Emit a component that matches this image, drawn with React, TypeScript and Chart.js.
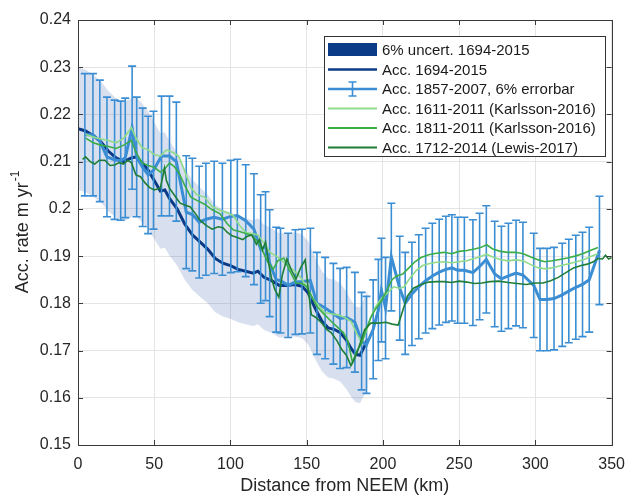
import React, { useEffect, useRef } from "react";
import { Chart, registerables } from "chart.js";

Chart.register(...registerables);

// ---------- data ----------
const xTicks = [0, 50, 100, 150, 200, 250, 300, 350];
const yTicks = [0.15, 0.16, 0.17, 0.18, 0.19, 0.2, 0.21, 0.22, 0.23, 0.24];

const uncertFrac = 0.06; // "6% uncert." / "6% errorbar"

// Acc. 1694-2015
const navyKm = [0, 5, 10, 15, 20, 25, 30, 35, 38, 42, 46, 50, 54, 57, 60, 65, 70, 75, 80, 85, 90, 95, 100, 105, 110, 115, 118, 122, 127, 132, 137, 142, 147, 151, 154, 157, 160, 164, 168, 172, 176, 179, 182, 185, 188, 190];
const navyAcc = [0.2170, 0.2165, 0.2155, 0.2142, 0.2122, 0.2108, 0.2100, 0.2108, 0.2110, 0.2098, 0.2082, 0.2060, 0.2038, 0.2040, 0.2022, 0.2000, 0.1968, 0.1945, 0.1930, 0.1915, 0.1895, 0.1885, 0.1880, 0.1872, 0.1868, 0.1864, 0.1868, 0.1855, 0.1848, 0.1838, 0.1838, 0.1840, 0.1836, 0.1822, 0.1800, 0.1780, 0.1762, 0.1748, 0.1745, 0.1738, 0.1722, 0.1705, 0.1692, 0.1690, 0.1710, 0.1725];

// Acc. 1857-2007 with 6% errorbar
const blueKm = [4.5, 9.8, 14.3, 19, 24, 28, 31, 35.5, 38.5, 42.4, 46, 49.5, 54.8, 60, 64.5, 71, 75, 79.5, 83.9, 89.3, 94.7, 100.2, 104.5, 110, 115.4, 119.8, 123, 125.7, 130, 132.8, 137.8, 142.6, 146.9, 152.4, 156.7, 162.1, 167.5, 171.9, 176.2, 181.6, 186, 189.2, 193.6, 197, 199, 201.7, 205.5, 211, 214.6, 219, 223.5, 228, 232.4, 236.9, 241.3, 245.2, 249, 253.4, 259, 263.4, 267.8, 273.3, 277.7, 282.3, 287.3, 291.8, 298.9, 303, 307.6, 312.2, 317.6, 321.9, 326.5, 330.9, 335.3, 342];
const blueAcc = [0.2157, 0.2157, 0.2144, 0.2110, 0.2104, 0.2102, 0.2108, 0.2172, 0.2110, 0.2088, 0.2072, 0.2082, 0.2112, 0.2112, 0.2100, 0.1993, 0.1988, 0.1972, 0.1978, 0.1982, 0.1978, 0.1984, 0.1986, 0.1975, 0.1957, 0.1915, 0.1921, 0.1885, 0.1850, 0.1848, 0.1838, 0.1845, 0.1846, 0.1848, 0.1800, 0.1790, 0.1778, 0.1768, 0.1770, 0.1760, 0.1720, 0.1712, 0.1745, 0.1786, 0.1828, 0.1790, 0.1898, 0.1832, 0.1800, 0.1820, 0.1835, 0.1848, 0.1858, 0.1866, 0.1872, 0.1875, 0.1870, 0.1870, 0.1865, 0.1878, 0.1893, 0.1862, 0.1852, 0.1858, 0.1864, 0.1860, 0.1838, 0.1808, 0.1808, 0.1810, 0.1818, 0.1826, 0.1834, 0.1840, 0.1850, 0.1912];

// Acc. 1611-2011 (Karlsson-2016)
const k1611Km = [5, 10, 15, 20, 25, 30, 35, 38, 42, 46, 50, 54, 58, 62, 66, 70, 74, 78, 83, 88, 93, 98, 102, 106, 110, 114, 118, 122, 126, 130, 134, 138, 142, 146, 150, 154, 158, 162, 166, 171, 175, 179, 183, 186, 189, 192, 195, 199, 203, 207, 211, 214, 218, 222, 226, 230, 235, 240, 245, 250, 255, 260, 265, 268, 272, 277, 282, 287, 292, 297, 302, 307, 312, 317, 322, 327, 332, 337, 341];
const k1611Acc = [0.2158, 0.2152, 0.2148, 0.2145, 0.2140, 0.2150, 0.2172, 0.2150, 0.2130, 0.2125, 0.2115, 0.2112, 0.2125, 0.2120, 0.2112, 0.2080, 0.2045, 0.2030, 0.2025, 0.2005, 0.1997, 0.1992, 0.1985, 0.1965, 0.1950, 0.1948, 0.1945, 0.1928, 0.1908, 0.1900, 0.1890, 0.1878, 0.1868, 0.1855, 0.1835, 0.1810, 0.1795, 0.1780, 0.1778, 0.1775, 0.1770, 0.1762, 0.1735, 0.1718, 0.1740, 0.1770, 0.1792, 0.1810, 0.1822, 0.1835, 0.1832, 0.1835, 0.1855, 0.1870, 0.1880, 0.1884, 0.1887, 0.1888, 0.1886, 0.1888, 0.1890, 0.1895, 0.1900, 0.1904, 0.1898, 0.1893, 0.1890, 0.1892, 0.1890, 0.1882, 0.1875, 0.1873, 0.1876, 0.1880, 0.1884, 0.1888, 0.1893, 0.1900, 0.1905];

// Acc. 1811-2011 (Karlsson-2016)
const k1811Km = [5, 10, 15, 20, 25, 30, 35, 38, 42, 46, 50, 54, 57, 60, 63, 66, 70, 74, 78, 83, 88, 93, 98, 102, 106, 110, 114, 118, 121, 124, 128, 131, 135, 139, 143, 147, 150, 154, 157, 162, 166, 170, 174, 177, 180, 183, 186, 189, 192, 195, 199, 203, 206, 209, 213, 217, 221, 225, 230, 235, 240, 245, 250, 255, 260, 264, 268, 272, 277, 282, 287, 292, 297, 302, 306, 311, 316, 321, 326, 331, 336, 341];
const k1811Acc = [0.2150, 0.2140, 0.2135, 0.2132, 0.2128, 0.2135, 0.2145, 0.2120, 0.2098, 0.2092, 0.2088, 0.2078, 0.2085, 0.2097, 0.2090, 0.2078, 0.2050, 0.2025, 0.2018, 0.2010, 0.1998, 0.1990, 0.1968, 0.1955, 0.1952, 0.1948, 0.1944, 0.1930, 0.1912, 0.1890, 0.1872, 0.1890, 0.1896, 0.1868, 0.1843, 0.1842, 0.1835, 0.1810, 0.1792, 0.1775, 0.1762, 0.1750, 0.1738, 0.1720, 0.1675, 0.1700, 0.1715, 0.1745, 0.1770, 0.1787, 0.1805, 0.1830, 0.1850, 0.1858, 0.1862, 0.1875, 0.1888, 0.1897, 0.1903, 0.1906, 0.1908, 0.1905, 0.1910, 0.1912, 0.1915, 0.1918, 0.1924, 0.1915, 0.1910, 0.1908, 0.1908, 0.1905, 0.1898, 0.1892, 0.1888, 0.1890, 0.1893, 0.1896, 0.1900, 0.1905, 0.1912, 0.1918];

// Acc. 1712-2014 (Lewis-2017)
const lewisKm = [3, 5, 8, 11, 14, 17.6, 21, 24, 27, 30, 32.6, 35, 38, 41, 44, 47, 50, 54, 56.7, 58, 60, 63, 67, 70, 73.7, 77, 80, 84, 88, 92, 95, 98, 101, 104, 108, 111, 114, 117, 119, 121, 123, 125, 127, 129, 131.7, 134, 137, 140, 143, 146, 149, 151, 153, 156, 160, 163, 166, 170, 173, 176, 179, 181, 183, 186, 188, 192, 197, 202, 206, 210, 213, 216, 220, 225, 230, 235, 240, 245, 250, 255, 260, 265, 270, 276, 282, 288, 294, 300, 305, 310, 315, 320, 325, 330, 334, 338, 341, 344, 346, 348, 350];
const lewisAcc = [0.2105, 0.2110, 0.2100, 0.2095, 0.2103, 0.2103, 0.2092, 0.2093, 0.2098, 0.2095, 0.2103, 0.2098, 0.2072, 0.2068, 0.2055, 0.2045, 0.2040, 0.2044, 0.2086, 0.2060, 0.2044, 0.2030, 0.2012, 0.2008, 0.2004, 0.1990, 0.1976, 0.1965, 0.1957, 0.1962, 0.1960, 0.1950, 0.1943, 0.1940, 0.1935, 0.1942, 0.1945, 0.1925, 0.1935, 0.1913, 0.1930, 0.1885, 0.1852, 0.1830, 0.1813, 0.1860, 0.1894, 0.1870, 0.1852, 0.1875, 0.1892, 0.1830, 0.1776, 0.1770, 0.1758, 0.1745, 0.1738, 0.1720, 0.1702, 0.1690, 0.1668, 0.1680, 0.1695, 0.1725, 0.1744, 0.1758, 0.1758, 0.1760, 0.1756, 0.1754, 0.1785, 0.1815, 0.1832, 0.1840, 0.1845, 0.1846, 0.1846, 0.1844, 0.1847, 0.1845, 0.1842, 0.1843, 0.1846, 0.1847, 0.1844, 0.1842, 0.1840, 0.1843, 0.1843, 0.1848, 0.1855, 0.1865, 0.1875, 0.1880, 0.1883, 0.1888, 0.1895, 0.1894, 0.1902, 0.1894, 0.1897];

const legendLabels = [
  "6% uncert. 1694-2015",
  "Acc. 1694-2015",
  "Acc. 1857-2007, 6% errorbar",
  "Acc. 1611-2011 (Karlsson-2016)",
  "Acc. 1811-2011 (Karlsson-2016)",
  "Acc. 1712-2014 (Lewis-2017)",
];

// ---------- styles ----------
const FONT = "'Liberation Sans', Arial, Helvetica, sans-serif";
const C_NAVY = "#0b3b86";
const C_BAND = "rgba(60,100,175,0.2)";
const C_BLUE = "#3b8ed3";
const C_LGREEN = "#8fdb8a";
const C_MGREEN = "#3aad47";
const C_DGREEN = "#1f7d37";
const TXT = "#262626";

const zip = (xs: number[], ys: number[]) => xs.map((x, i) => ({ x, y: ys[i] }));

const errorBarPlugin = {
  id: "errorBars",
  beforeDatasetDraw(chart: any, args: any) {
    const ds = chart.data.datasets[args.index];
    if (!ds.errorFrac) return;
    const xs = chart.scales.x;
    const ys = chart.scales.y;
    const ctx = chart.ctx;
    const area = chart.chartArea;
    ctx.save();
    ctx.beginPath();
    ctx.rect(area.left, area.top, area.right - area.left, area.bottom - area.top);
    ctx.clip();
    ctx.strokeStyle = ds.borderColor;
    ctx.lineWidth = 1.6;
    for (const p of ds.data) {
      const px = xs.getPixelForValue(p.x);
      const yt = ys.getPixelForValue(p.y * (1 + ds.errorFrac));
      const yb = ys.getPixelForValue(p.y * (1 - ds.errorFrac));
      ctx.beginPath();
      ctx.moveTo(px, yt);
      ctx.lineTo(px, yb);
      ctx.moveTo(px - 4, yt);
      ctx.lineTo(px + 4, yt);
      ctx.moveTo(px - 4, yb);
      ctx.lineTo(px + 4, yb);
      ctx.stroke();
    }
    ctx.restore();
  },
};

const frameLegendPlugin = {
  id: "frameLegend",
  afterDatasetsDraw(chart: any) {
    const ctx = chart.ctx;
    const a = chart.chartArea;
    const xs = chart.scales.x;
    const ys = chart.scales.y;
    ctx.save();
    // box
    ctx.strokeStyle = "#3a3a3a";
    ctx.lineWidth = 1;
    ctx.strokeRect(Math.round(a.left) + 0.5, Math.round(a.top) + 0.5, Math.round(a.right - a.left), Math.round(a.bottom - a.top));
    // inward ticks
    ctx.beginPath();
    for (const v of xTicks) {
      const px = Math.round(xs.getPixelForValue(v)) + 0.5;
      ctx.moveTo(px, a.bottom);
      ctx.lineTo(px, a.bottom - 5);
      ctx.moveTo(px, a.top);
      ctx.lineTo(px, a.top + 5);
    }
    for (const v of yTicks) {
      const py = Math.round(ys.getPixelForValue(v)) + 0.5;
      ctx.moveTo(a.left, py);
      ctx.lineTo(a.left + 5, py);
      ctx.moveTo(a.right, py);
      ctx.lineTo(a.right - 5, py);
    }
    ctx.stroke();

    // legend
    const lx = 324, ly = 36, lw = 281, lh = 120;
    ctx.fillStyle = "#ffffff";
    ctx.fillRect(lx, ly, lw, lh);
    ctx.strokeStyle = "#333333";
    ctx.strokeRect(lx + 0.5, ly + 0.5, lw, lh);
    const rowY0 = 50, rowDy = 19.5;
    const sx0 = 328, sx1 = 377, tx = 382;
    ctx.font = `15px ${FONT}`;
    ctx.textBaseline = "middle";
    ctx.textAlign = "left";
    legendLabels.forEach((label, i) => {
      const y = rowY0 + i * rowDy;
      if (i === 0) {
        ctx.fillStyle = C_NAVY;
        ctx.fillRect(sx0, y - 7, sx1 - sx0, 13);
      } else {
        const col = [C_NAVY, C_BLUE, C_LGREEN, C_MGREEN, C_DGREEN][i - 1];
        ctx.strokeStyle = col;
        ctx.lineWidth = i <= 2 ? 2.5 : 2;
        ctx.beginPath();
        ctx.moveTo(sx0, y);
        ctx.lineTo(sx1, y);
        ctx.stroke();
        if (i === 2) {
          const cx = (sx0 + sx1) / 2;
          ctx.lineWidth = 1.6;
          ctx.beginPath();
          ctx.moveTo(cx, y - 7);
          ctx.lineTo(cx, y + 7);
          ctx.moveTo(cx - 4, y - 7);
          ctx.lineTo(cx + 4, y - 7);
          ctx.moveTo(cx - 4, y + 7);
          ctx.lineTo(cx + 4, y + 7);
          ctx.stroke();
        }
      }
      ctx.fillStyle = "#1a1a1a";
      ctx.fillText(label, tx, y + 1);
    });

    // y-axis title with superscript
    const main = "Acc. rate m yr";
    const sup = "-1";
    ctx.font = `18px ${FONT}`;
    const wMain = ctx.measureText(main).width;
    ctx.font = `12px ${FONT}`;
    const wSup = ctx.measureText(sup).width;
    const total = wMain + wSup;
    ctx.translate(23, (a.top + a.bottom) / 2);
    ctx.rotate(-Math.PI / 2);
    ctx.fillStyle = TXT;
    ctx.textAlign = "left";
    ctx.textBaseline = "middle";
    ctx.font = `18px ${FONT}`;
    ctx.fillText(main, -total / 2, 0);
    ctx.font = `12px ${FONT}`;
    ctx.fillText(sup, -total / 2 + wMain + 1, -7);
    ctx.restore();
  },
};

export default function App() {
  const ref = useRef<HTMLCanvasElement | null>(null);

  useEffect(() => {
    if (!ref.current) return;
    const navyData = zip(navyKm, navyAcc);
    const chart = new Chart(ref.current, {
      type: "line",
      data: {
        datasets: [
          {
            label: "band-upper",
            data: navyData.map((p) => ({ x: p.x, y: p.y * (1 + uncertFrac) })),
            borderWidth: 0,
            borderColor: "rgba(0,0,0,0)",
            pointRadius: 0,
            fill: false,
            order: 10,
          },
          {
            label: legendLabels[0],
            data: navyData.map((p) => ({ x: p.x, y: p.y * (1 - uncertFrac) })),
            borderWidth: 0,
            borderColor: "rgba(0,0,0,0)",
            backgroundColor: C_BAND,
            pointRadius: 0,
            fill: "-1",
            order: 9,
          },
          {
            label: legendLabels[1],
            data: navyData,
            borderColor: C_NAVY,
            borderWidth: 3,
            pointRadius: 0,
            fill: false,
            order: 6,
          },
          {
            label: legendLabels[2],
            data: zip(blueKm, blueAcc),
            borderColor: C_BLUE,
            borderWidth: 3,
            pointRadius: 0,
            fill: false,
            order: 5,
            errorFrac: uncertFrac,
          } as any,
          {
            label: legendLabels[3],
            data: zip(k1611Km, k1611Acc),
            borderColor: C_LGREEN,
            borderWidth: 1.6,
            pointRadius: 0,
            fill: false,
            order: 4,
          },
          {
            label: legendLabels[4],
            data: zip(k1811Km, k1811Acc),
            borderColor: C_MGREEN,
            borderWidth: 1.6,
            pointRadius: 0,
            fill: false,
            order: 3,
          },
          {
            label: legendLabels[5],
            data: zip(lewisKm, lewisAcc),
            borderColor: C_DGREEN,
            borderWidth: 1.6,
            pointRadius: 0,
            fill: false,
            order: 2,
          },
        ],
      },
      options: {
        animation: false,
        responsive: false,
        events: [],
        layout: { padding: { top: 20, right: 20, left: 0, bottom: 0 } },
        plugins: {
          legend: { display: false },
          tooltip: { enabled: false },
        },
        scales: {
          x: {
            type: "linear",
            min: 0,
            max: 350,
            afterBuildTicks: (s: any) => {
              s.ticks = xTicks.map((v) => ({ value: v }));
            },
            afterFit: (s: any) => {
              s.height = 52;
            },
            grid: { color: "#e4e4e4", drawTicks: false, lineWidth: 1 },
            border: { display: false },
            ticks: {
              font: { family: FONT, size: 16 },
              color: TXT,
              padding: 10,
              maxRotation: 0,
              callback: (v: any) => String(v),
            },
            title: {
              display: true,
              text: "Distance from NEEM (km)",
              font: { family: FONT, size: 18 },
              color: TXT,
              padding: { top: 0, bottom: 0 },
            },
          },
          y: {
            type: "linear",
            min: 0.15,
            max: 0.24,
            afterBuildTicks: (s: any) => {
              s.ticks = yTicks.map((v) => ({ value: v }));
            },
            afterFit: (s: any) => {
              s.width = 78;
            },
            grid: { color: "#e4e4e4", drawTicks: false, lineWidth: 1 },
            border: { display: false },
            ticks: {
              font: { family: FONT, size: 16 },
              color: TXT,
              padding: 7,
              callback: (v: any) => String(Number(Number(v).toFixed(2))),
            },
          },
        },
      },
      plugins: [errorBarPlugin, frameLegendPlugin],
    });
    return () => chart.destroy();
  }, []);

  return (
    <div style={{ position: "fixed", left: 0, top: 0, width: 635, height: 497, background: "#fff" }}>
      <canvas ref={ref} width={635} height={497} style={{ display: "block" }} />
    </div>
  );
}
